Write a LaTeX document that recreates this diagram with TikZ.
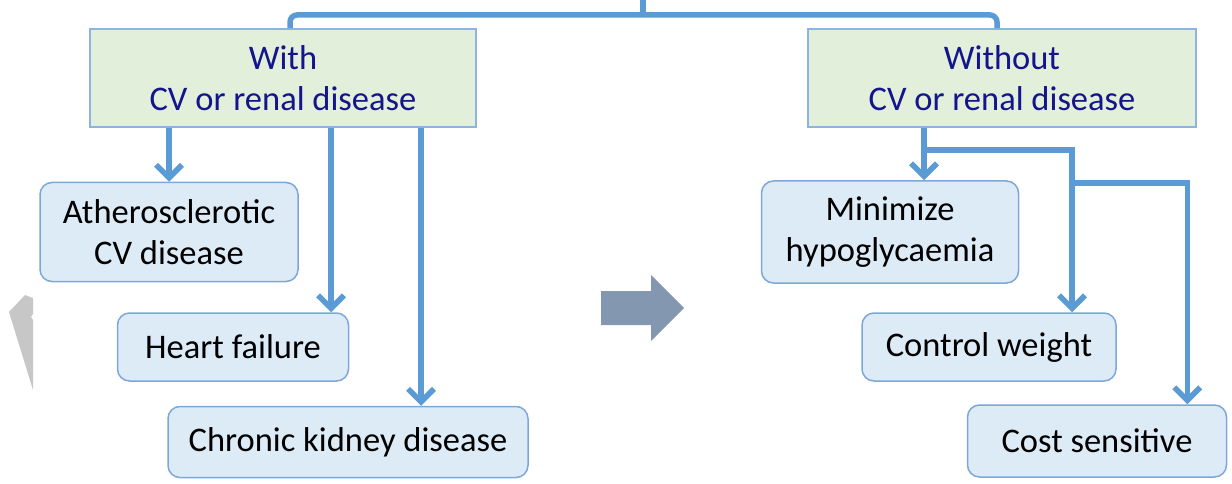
\documentclass[tikz,border=0pt]{standalone}
\usepackage{fontspec}
\setmainfont{Carlito}
\usetikzlibrary{arrows.meta}

\definecolor{linkblue}{RGB}{91,155,213}
\definecolor{headfill}{RGB}{226,239,218}
\definecolor{headline}{RGB}{140,180,225}
\definecolor{headtext}{RGB}{20,20,140}
\definecolor{itemfill}{RGB}{221,235,247}
\definecolor{itemline}{RGB}{125,167,217}
\definecolor{bigarrow}{RGB}{132,151,176}

\begin{document}
\begin{tikzpicture}[x=1pt,y=-1pt,
    every node/.style={font=\fontsize{34.5}{41}\selectfont, align=center, inner sep=0pt},
    group/.style={draw=headline, fill=headfill, line width=1.5pt, text=headtext},
    item/.style={draw=itemline, fill=itemfill, line width=1.5pt, rounded corners=12pt},
    link/.style={draw=linkblue, line width=5.5pt},
    arr/.style={link, -{Straight Barb[length=13pt,width=26pt]}}]
    \useasboundingbox (0,0) rectangle (1232,484);

    % two groups
    \node [group, minimum width=386pt, minimum height=98pt] (with) at (283,78) {With\\CV or renal disease};
    \node [group, minimum width=388pt, minimum height=98pt] (without) at (1002,78) {Without\\CV or renal disease};

    % left items
    \node [item, minimum width=258pt, minimum height=99pt] (athero) at (169,232) {Atherosclerotic\\CV disease};
    \node [item, minimum width=231pt, minimum height=68pt] (heart) at (233,347) {Heart failure};
    \node [item, minimum width=360pt, minimum height=71pt] (ckd) at (348,442) {Chronic kidney disease};

    % right items
    \node [item, minimum width=257pt, minimum height=102pt] (minim) at (890,232) {Minimize\\hypoglycaemia};
    \node [item, minimum width=254pt, minimum height=68pt] (weight) at (989,347) {Control weight};
    \node [item, minimum width=259pt, minimum height=72pt] (cost) at (1097,441) {Cost sensitive};

    % top split
    \coordinate (root) at (643,0);
    \coordinate (hub) at (643,15);
    \coordinate (tl) at (290,15);
    \coordinate (tr) at (997,15);
    \draw [link] (root) -- (hub);
    \draw [link, rounded corners=7pt] (with.north -| tl) |- (hub) -| (without.north -| tr);

    % left arrows
    \draw [arr] (with.south -| athero) -- (athero.north);
    \draw [arr] ([xshift=48pt]with.south) -- ([xshift=48pt]with.south |- heart.north);
    \draw [arr] ([xshift=138pt]with.south) -- ([xshift=138pt]with.south |- ckd.north);

    % right arrows
    \coordinate (j1) at (924,150);
    \coordinate (j2) at (1072,183);
    \draw [arr] ([xshift=-78pt]without.south) -- ([xshift=-78pt]without.south |- minim.north);
    \draw [arr] (j1) -| (j2 |- weight.north);
    \draw [arr] (j2) -| ([xshift=-40pt]cost.north east);

    % block arrow between the halves
    \fill [bigarrow] (601,291) -- (651,291) -- (651,275) -- (684,308) -- (651,341) -- (651,325) -- (601,325) -- cycle;

    % grey fragment at the left edge
    \fill [black!22] (9,312) -- (25,295) -- (33,298) -- (33,314) -- (31,317) -- (33,320) -- (33,390) -- cycle;
\end{tikzpicture}
\end{document}
